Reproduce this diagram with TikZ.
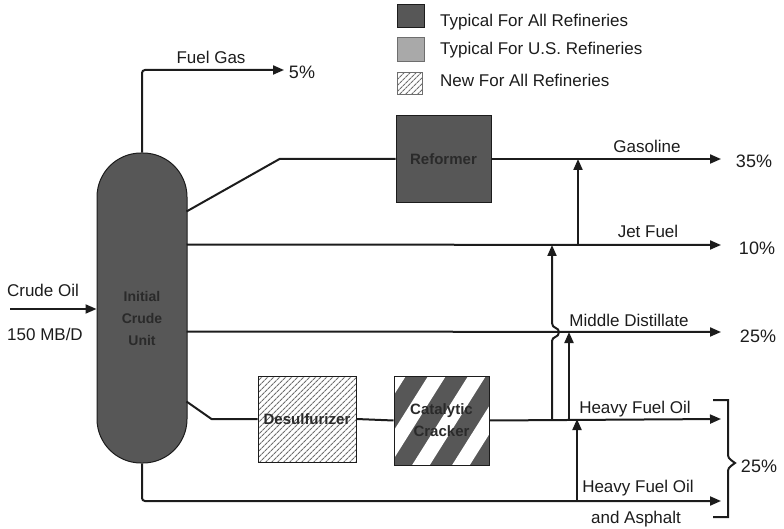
\documentclass[tikz,border=0pt]{standalone}
\usepackage{fontspec}
\setmainfont{Liberation Sans}
\usetikzlibrary{arrows.meta,patterns.meta,calc}
\definecolor{ink}{HTML}{1C1C1C}
\definecolor{dark}{HTML}{575757}
\definecolor{boxtext}{HTML}{2A2A2A}
\definecolor{light}{HTML}{A9A9A9}
\definecolor{hatch}{HTML}{6E6E6E}
\begin{document}
\begin{tikzpicture}[x=1pt,y=-1pt,
  flow/.style={line width=2pt, draw=ink, line join=round},
  arr/.style={flow, -{Triangle[length=11pt,width=9pt]}},
  lbl/.style={font=\fontsize{17}{19}\selectfont, text=ink, inner sep=0pt, anchor=base},
  pct/.style={font=\fontsize{18}{20}\selectfont, text=ink, inner sep=0pt, anchor=base},
  unitbox/.style={draw=ink, line width=1pt, inner sep=0pt, align=center,
    font=\fontsize{15}{22}\selectfont\bfseries, text=boxtext},
  hatched/.style={pattern={Lines[angle=45,distance=4pt,line width=1.1pt]}, pattern color=hatch},
  legtext/.style={font=\fontsize{17}{19}\selectfont, text=ink, inner sep=0pt, anchor=base west}
  ]
\useasboundingbox (0,0) rectangle (784,529);

% legend
\node[unitbox, fill=dark, minimum width=27pt, minimum height=23pt] (lg1) at (410.5,16.5) {};
\node[unitbox, fill=light, draw=hatch, minimum width=27pt, minimum height=24pt] (lg2) at (410.5,50) {};
\node[unitbox, hatched, draw=hatch, minimum width=25pt, minimum height=22pt] (lg3) at (409.5,83.5) {};
\node[legtext] (lt1) at (440,27) {Typical For All Refineries};
\node[legtext] (lt2) at (440,55) {Typical For U.S. Refineries};
\node[legtext] (lt3) at (440,87) {New For All Refineries};

% column
\node[draw=ink, line width=1pt, fill=dark, rounded corners=44pt,
      minimum width=90pt, minimum height=310pt, inner sep=0pt] (cu) at (142,308) {};
\node[unitbox, draw=none, font=\fontsize{14}{22}\selectfont\bfseries] (cul) at (142,318) {Initial\\Crude\\Unit};

% units
\node[unitbox, fill=dark, minimum width=95pt, minimum height=87pt] (ref) at (443.5,159) {Reformer};
\node[unitbox, hatched, minimum width=98pt, minimum height=86pt] (des) at (307,419) {Desulfurizer};
\node[unitbox, fill=dark, minimum width=95pt, minimum height=89pt,
  path picture={\foreach \r in {-100.5,-60.5,-20.5,19.5,59.5}{
     \draw[white,line width=15pt]
       ($(path picture bounding box.center)+(\r-28,89)$) --
       ($(path picture bounding box.center)+(\r+84,-89)$);}}
  ] (cc) at (441.5,420.5) {Catalytic\\Cracker};

% end points
\coordinate (cin) at (10,309);
\coordinate (efg) at (284,70);
\coordinate (e1) at (721,159);
\coordinate (e2) at (721,245);
\coordinate (e3) at (721,332);
\coordinate (e4) at (721,419);
\coordinate (e5) at (721,501);
\coordinate (v1) at (552,419);
\coordinate (v2) at (569,419);
\coordinate (v3) at (578,245);
\coordinate (v4) at (577,501);

% flows
\draw[arr] (cin) -- (cin -| cu.west);
\draw[arr, rounded corners=3pt] (cu.north) |- (efg);
\draw[flow] ($(cu.north east)+(-1,59)$) -- ($(ref.west)+(-116,0)$) -- (ref.west);
\draw[arr] (ref.east) -- (e1);
\draw[arr] ($(cu.north east)+(-1,92)$) -- (e2);
\draw[arr] ($(cu.north east)+(-1,179)$) -- (e3);
\draw[flow] ($(cu.north east)+(-1,249)$) -- ($(des.west)+(-46,0)$) -- (des.west);
\draw[flow] (des.east) -- (cc.west);
\draw[arr] (cc.east) -- (e4);
\draw[arr, rounded corners=3pt] (cu.south) |- (e5);

% vertical transfers
\draw[arr] (v1) -- (552,341) .. controls (552,336) and (559,338) .. (559,332)
  .. controls (559,327) and (552,329) .. (552,323) -- (v1 |- e2);
\draw[arr] (v2) -- (v2 |- e3);
\draw[arr] (v3) -- (v3 |- e1);
\draw[arr] (v4) -- (v4 |- e4);

% bracket
\draw[flow, line join=miter] (713,400) -- (728,400) -- (728,452) .. controls (728,458) .. (735,463)
  .. controls (728,468) .. (728,474) -- (728,517) -- (713,517);

% labels
\node[lbl] (lfg) at (211,64) {Fuel Gas};
\node[pct] (p5) at (302,79) {5\%};
\node[lbl] (lgas) at (647,153) {Gasoline};
\node[pct] (p35) at (754,168) {35\%};
\node[lbl] (ljet) at (648,238) {Jet Fuel};
\node[pct] (p10) at (757,255) {10\%};
\node[lbl] (lmd) at (629,326) {Middle Distillate};
\node[pct] (p25a) at (758,342) {25\%};
\node[lbl] (lhfo) at (635,413) {Heavy Fuel Oil};
\node[lbl] (lhfo2) at (638,492) {Heavy Fuel Oil};
\node[lbl] (lasp) at (636,523) {and Asphalt};
\node[pct] (p25b) at (759,472) {25\%};
\node[lbl] (lco) at (43,297) {Crude Oil};
\node[lbl] (lmb) at (45,340) {150 MB/D};
\end{tikzpicture}
\end{document}
